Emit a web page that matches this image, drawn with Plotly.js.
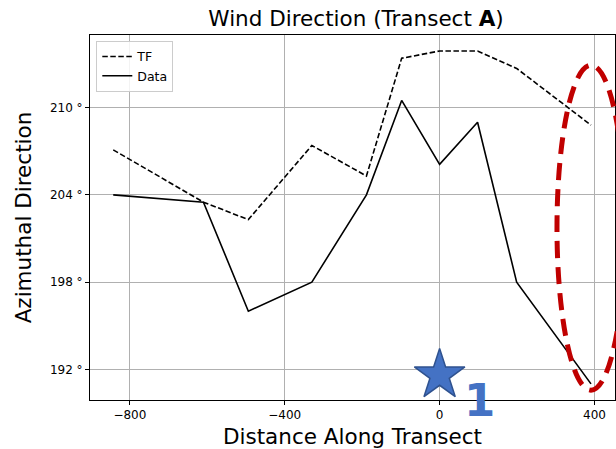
<!DOCTYPE html>
<html>
<head>
<meta charset="utf-8">
<script src="https://cdn.plot.ly/plotly-3.0.1.min.js"></script>
<style>html,body{margin:0;padding:0;background:#fff;}#chart{width:616px;height:449px;}</style>
</head>
<body>
<div id="chart"></div>
<script>
// Distance along transect (x) and azimuthal direction (degrees)
const distance = [-843, -610, -494, -330, -189, -98, 0, 98, 199, 391];
const tfDirection = [207.1, 203.5, 202.3, 207.4, 205.3, 213.4, 213.9, 213.9, 212.7, 208.8];
const dataDirection = [204.0, 203.5, 196.0, 198.0, 204.0, 210.5, 206.1, 209.0, 198.0, 191.0];
const xTicks = [-800, -400, 0, 400];
const yTicks = [192, 198, 204, 210];
const yTickText = ["192 \u00b0", "198 \u00b0", "204 \u00b0", "210 \u00b0"];
const starX = [0];
const starY = [191.6];
const siteLabel = "1";

const font = "DejaVu Sans, sans-serif";

const traces = [
  {
    x: distance, y: tfDirection, name: "TF", type: "scatter", mode: "lines",
    line: {color: "#000", width: 1.6, dash: "5.5px,2.5px"}
  },
  {
    x: distance, y: dataDirection, name: "Data", type: "scatter", mode: "lines",
    line: {color: "#000", width: 1.6}
  },
  {
    x: starX, y: starY, type: "scatter", mode: "markers", showlegend: false,
    hoverinfo: "skip", cliponaxis: false,
    marker: {symbol: "star", size: 38, color: "#4472C4", line: {color: "#2F528F", width: 1.5}}
  }
];

const layout = {
  width: 616, height: 449,
  margin: {l: 90, r: 1, t: 35, b: 49, pad: 0},
  paper_bgcolor: "#fff", plot_bgcolor: "#fff",
  font: {family: font, color: "#000", size: 12},
  title: {
    text: "Wind Direction (Transect <b>A</b>)",
    font: {family: font, size: 21.5, color: "#000"},
    x: 0.578, xanchor: "center", xref: "container",
    y: 0.958, yanchor: "middle", yref: "container"
  },
  showlegend: true,
  legend: {
    x: 0.012, y: 0.984, xanchor: "left", yanchor: "top",
    bgcolor: "rgba(255,255,255,0.85)", bordercolor: "#cccccc", borderwidth: 1,
    font: {family: font, size: 12.5, color: "#000"},
    tracegroupgap: 0, itemwidth: 30
  },
  xaxis: {
    range: [-903, 453], tickvals: xTicks,
    showgrid: true, gridcolor: "#b0b0b0", gridwidth: 1,
    zeroline: false, showline: true, mirror: true, linecolor: "#000", linewidth: 1,
    ticks: "outside", ticklen: 4, tickcolor: "#000", tickwidth: 1,
    tickfont: {family: font, size: 12, color: "#000"},
    title: {text: "Distance Along Transect", font: {family: font, size: 21.5, color: "#000"}, standoff: 8}
  },
  yaxis: {
    range: [189.89, 215.0], tickmode: "array", tickvals: yTicks, ticktext: yTickText,
    showgrid: true, gridcolor: "#b0b0b0", gridwidth: 1,
    zeroline: false, showline: true, mirror: true, linecolor: "#000", linewidth: 1,
    ticks: "outside", ticklen: 4, tickcolor: "#000", tickwidth: 1,
    tickfont: {family: font, size: 12, color: "#000"},
    title: {text: "Azimuthal Direction", font: {family: font, size: 21.5, color: "#000"}, standoff: 12}
  },
  shapes: [
    {
      type: "circle", xref: "paper", yref: "paper",
      x0: 0.8895, x1: 1.019, y0: 0.027, y1: 0.917,
      line: {color: "#C00000", width: 5, dash: "17px,9px"}, layer: "above"
    }
  ],
  annotations: [
    {
      text: "<b>" + siteLabel + "</b>", xref: "paper", yref: "paper", x: 0.742, y: 0.0,
      showarrow: false, xanchor: "center", yanchor: "middle",
      font: {family: font, size: 45, color: "#4472C4"}
    }
  ]
};

Plotly.newPlot("chart", traces, layout, {displayModeBar: false, staticPlot: true});
</script>
</body>
</html>
